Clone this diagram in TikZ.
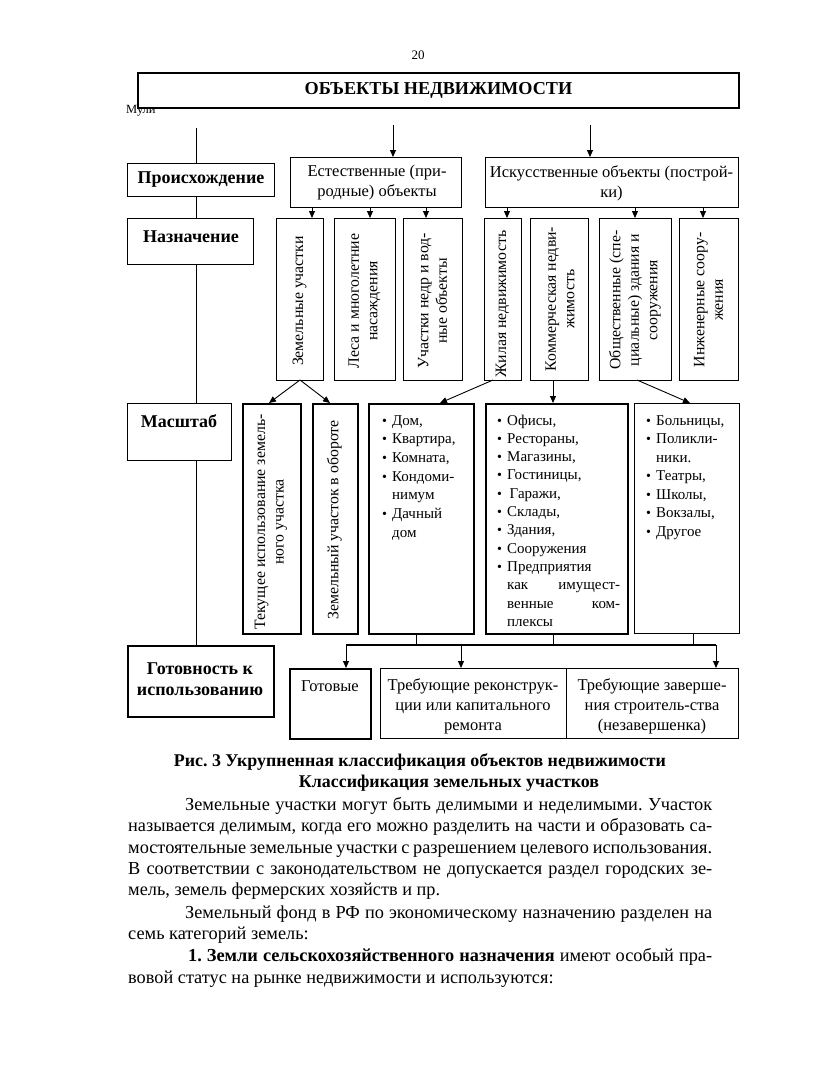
\documentclass[tikz,border=0pt]{standalone}
\usepackage{fontspec}
\setmainfont{Liberation Serif}
\usetikzlibrary{arrows.meta}
\frenchspacing
\newcommand\fsz[2]{\fontsize{#1}{#2}\selectfont}
\newcommand\bul{\makebox[10pt][l]{\fsz{14}{14}•}}
\tikzset{
  box/.style={draw, line width=1.1pt, inner sep=0pt, anchor=north west, fill=white},
  thickbox/.style={box, line width=1.9pt},
  conn/.style={line width=0.9pt},
  arr/.style={conn, -{Triangle[length=7pt,width=6pt]}},
  lbl/.style={font=\bfseries\fsz{18}{21.5}, align=center, inner sep=0pt},
  txt/.style={font=\fsz{16.5}{20}, align=center, inner sep=0pt},
  rot/.style={rotate=90, font=\fsz{15.8}{18.5}, align=center, inner sep=0pt},
  li/.style={anchor=base west, inner sep=0pt, font=\fsz{15}{18}},
  body/.style={anchor=base west, inner sep=0pt, font=\fsz{18.3}{21}},
  captxt/.style={font=\bfseries\fsz{17.9}{21}, inner sep=0pt},
}
\begin{document}
\frenchspacing
\begin{tikzpicture}[x=1pt,y=-1pt]
\useasboundingbox[fill=white] (0,0) rectangle (835,1080);

% page number and stray text
\node[font=\fsz{13}{15}] (pg) at (418,55) {20};
\node[anchor=base west, inner sep=0pt, font=\fsz{12.5}{14}] (mul) at (126,113) {Мули};

% title
\node[thickbox, minimum width=601pt, minimum height=35pt] (title) at (137,72) {};
\node[font=\bfseries\fsz{18.2}{20}, inner sep=0pt] (titletxt) at (title.center) {ОБЪЕКТЫ НЕДВИЖИМОСТИ};

% left column
\coordinate (ltop) at (196,128);
\node[box, minimum width=147pt, minimum height=33pt] (proish) at (127,163) {};
\node[lbl] (proisht) at (201,180) {Происхождение};
\node[box, minimum width=126pt, minimum height=46pt] (naz) at (127,218) {};
\node[lbl] (nazt) at (191,237) {Назначение};
\node[box, minimum width=104pt, minimum height=57pt] (masht) at (127,403) {};
\node[lbl] (mashtt) at (179,421) {Масштаб};
\node[thickbox, minimum width=146pt, minimum height=71pt] (gotov) at (127,645) {};
\node[lbl] (gotovt) at (200,679) {Готовность к\\использованию};

\draw[conn] (ltop) -- (ltop |- proish.north);
\draw[conn] (ltop |- proish.south) -- (ltop |- naz.north);
\draw[conn] (ltop |- naz.south) -- (ltop |- masht.north);
\draw[conn] (ltop |- masht.south) -- (ltop |- gotov.north);

% origin row
\node[box, minimum width=171pt, minimum height=50pt] (nat) at (290,157) {};
\node[txt] (natt) at (377,183) {Естественные (при-\\родные) объекты};
\node[box, minimum width=253pt, minimum height=50pt] (art) at (485,157) {};
\node[txt] (artt) at (611.5,183) {Искусственные объекты (построй-\\ки)};

\coordinate (a1) at (393,125);
\coordinate (a2) at (590,125);
\draw[arr] (a1) -- (a1 |- nat.north);
\draw[arr] (a2) -- (a2 |- art.north);

% purpose row
\node[box, line width=1.4pt, minimum width=47pt, minimum height=162pt] (r1) at (276,218) {};
\node[box, line width=1.4pt, minimum width=61pt, minimum height=162pt] (r2) at (334,218) {};
\node[box, line width=1.4pt, minimum width=59pt, minimum height=162pt] (r3) at (403,218) {};
\node[box, line width=1.4pt, minimum width=37pt, minimum height=162pt] (r4) at (484,218) {};
\node[box, line width=1.4pt, minimum width=58pt, minimum height=162pt] (r5) at (530,218) {};
\node[box, line width=1.4pt, minimum width=72pt, minimum height=162pt] (r6) at (599,218) {};
\node[box, line width=1.4pt, minimum width=59pt, minimum height=162pt] (r7) at (679,218) {};

\node[rot] (r1t) at (299.5,301) {Земельные участки};
\node[rot] (r2t) at (364.5,301) {Леса и многолетние\\насаждения};
\node[rot] (r3t) at (432.5,301) {Участки недр и вод-\\ные объекты};
\node[rot] (r4t) at (502.5,304) {Жилая недвижимость};
\node[rot] (r5t) at (560,299) {Коммерческая недви-\\жимость};
\node[rot] (r6t) at (635,300) {Общественные (спе-\\циальные) здания и\\сооружения};
\node[rot] (r7t) at (708.5,300) {Инженерные соору-\\жения};

\foreach \x in {312,370,426} \draw[arr] (\x,0 |- nat.south) -- (\x,0 |- r1.north);
\foreach \x in {507,635,703} \draw[arr] (\x,0 |- art.south) -- (\x,0 |- r1.north);

% scale row
\node[thickbox, minimum width=58pt, minimum height=230pt] (s1) at (242,403) {};
\node[thickbox, minimum width=45pt, minimum height=230pt] (s2) at (312,403) {};
\node[thickbox, minimum width=105pt, minimum height=230pt] (s3) at (368,403) {};
\node[thickbox, minimum width=142pt, minimum height=230pt] (s4) at (485,403) {};
\node[box, line width=1.3pt, minimum width=105pt, minimum height=230pt] (s5) at (634,403) {};

\node[rot] (s1t) at (271,522) {Текущее использование земель-\\ного участка};
\node[rot] (s2t) at (334.5,520) {Земельный участок в обороте};

\coordinate (c1) at (300,380);
\coordinate (c4) at (493,380);
\coordinate (c5) at (553,380);
\coordinate (c6) at (637,380);
\draw[arr] (c1) -- (269,403);
\draw[arr] (c1) -- (330,403);
\draw[arr] (c4) -- (440,403);
\draw[arr] (c5) -- (c5 |- s4.north);
\draw[arr] (c6) -- (690,403);

% lists
\node[li] (l1a) at (382,425) {\bul Дом,};
\node[li] (l1b) at (382,443.7) {\bul Квартира,};
\node[li] (l1c) at (382,462.4) {\bul Комната,};
\node[li] (l1d) at (382,481.1) {\bul Кондоми-};
\node[li] (l1e) at (392,499.8) {нимум};
\node[li] (l1f) at (382,518.5) {\bul Дачный};
\node[li] (l1g) at (392,537.2) {дом};

\node[li] (l2a) at (497,425) {\bul Офисы,};
\node[li] (l2b) at (497,443.3) {\bul Рестораны,};
\node[li] (l2c) at (497,461.6) {\bul Магазины,};
\node[li] (l2d) at (497,479.9) {\bul Гостиницы,};
\node[li] (l2e) at (497,498.2) {\bul \,Гаражи,};
\node[li] (l2f) at (497,516.5) {\bul Склады,};
\node[li] (l2g) at (497,534.8) {\bul Здания,};
\node[li] (l2h) at (497,553.1) {\bul Сооружения};
\node[li] (l2i) at (497,571.4) {\bul Предприятия};
\node[li] (l2j) at (507,589.7) {\makebox[113pt][s]{как имущест-}};
\node[li] (l2k) at (507,608.0) {\makebox[113pt][s]{венные ком-}};
\node[li] (l2l) at (507,626.3) {плексы};

\node[li] (l3a) at (646,425) {\bul Больницы,};
\node[li] (l3b) at (646,443.5) {\bul Поликли-};
\node[li] (l3c) at (656,462) {ники.};
\node[li] (l3d) at (646,480.5) {\bul Театры,};
\node[li] (l3e) at (646,499) {\bul Школы,};
\node[li] (l3f) at (646,517.5) {\bul Вокзалы,};
\node[li] (l3g) at (646,536) {\bul Другое};

% readiness
\coordinate (bus) at (346,645);
\draw[conn] (416,0 |- s3.south) -- (416,0 |- bus);
\draw[conn] (553,0 |- s4.south) -- (553,0 |- bus);
\draw[conn] (693,0 |- s5.south) -- (693,0 |- bus);
\draw[line width=2pt] (bus) -- (716,645);

\node[box, line width=1.5pt, minimum width=81pt, minimum height=70pt] (g1) at (289,668) {};
\node[box, line width=1.2pt, minimum width=186pt, minimum height=70pt] (g2) at (380,668) {};
\node[box, line width=1.2pt, minimum width=172pt, minimum height=70pt] (g3) at (566,668) {};
\node[txt, anchor=base] (g1t) at (330,691) {Готовые};
\node[txt, anchor=north] (g2t) at (473,678) {Требующие реконструк-\\ции или капитального\\ремонта};
\node[txt, anchor=north] (g3t) at (652,678) {Требующие заверше-\\ния строитель-ства\\(незавершенка)};

\draw[arr, line width=1pt] (bus) -- (bus |- g1.north);
\draw[arr, line width=1pt] (461,645) -- (461,0 |- g2.north);
\draw[arr, line width=1pt] (716,645) -- (716,0 |- g3.north);

% caption and text
\node[captxt] (cap1) at (420,762) {Рис. 3 Укрупненная классификация объектов недвижимости};
\node[captxt] (cap2) at (449,783) {Классификация земельных участков};

\node[body] (p1) at (185,810) {\makebox[527pt][s]{Земельные участки могут быть делимыми и неделимыми. Участок}};
\node[body] (p2) at (128,831) {\makebox[584pt][s]{называется делимым, когда его можно разделить на части и образовать са-}};
\node[body] (p3) at (128,853) {\makebox[584pt][s]{мостоятельные земельные участки с разрешением целевого использования.}};
\node[body] (p4) at (128,874) {\makebox[584pt][s]{В соответствии с законодательством не допускается раздел городских зе-}};
\node[body] (p5) at (128,895) {мель, земель фермерских хозяйств и пр.};
\node[body] (p6) at (185,918) {\makebox[527pt][s]{Земельный фонд в РФ по экономическому назначению разделен на}};
\node[body] (p7) at (128,939) {семь категорий земель:};
\node[body] (p8) at (188,961) {\makebox[524pt][s]{\textbf{1. Земли сельскохозяйственного назначения} имеют особый пра-}};
\node[body] (p9) at (128,983) {вовой статус на рынке недвижимости и используются:};
\end{tikzpicture}
\end{document}
